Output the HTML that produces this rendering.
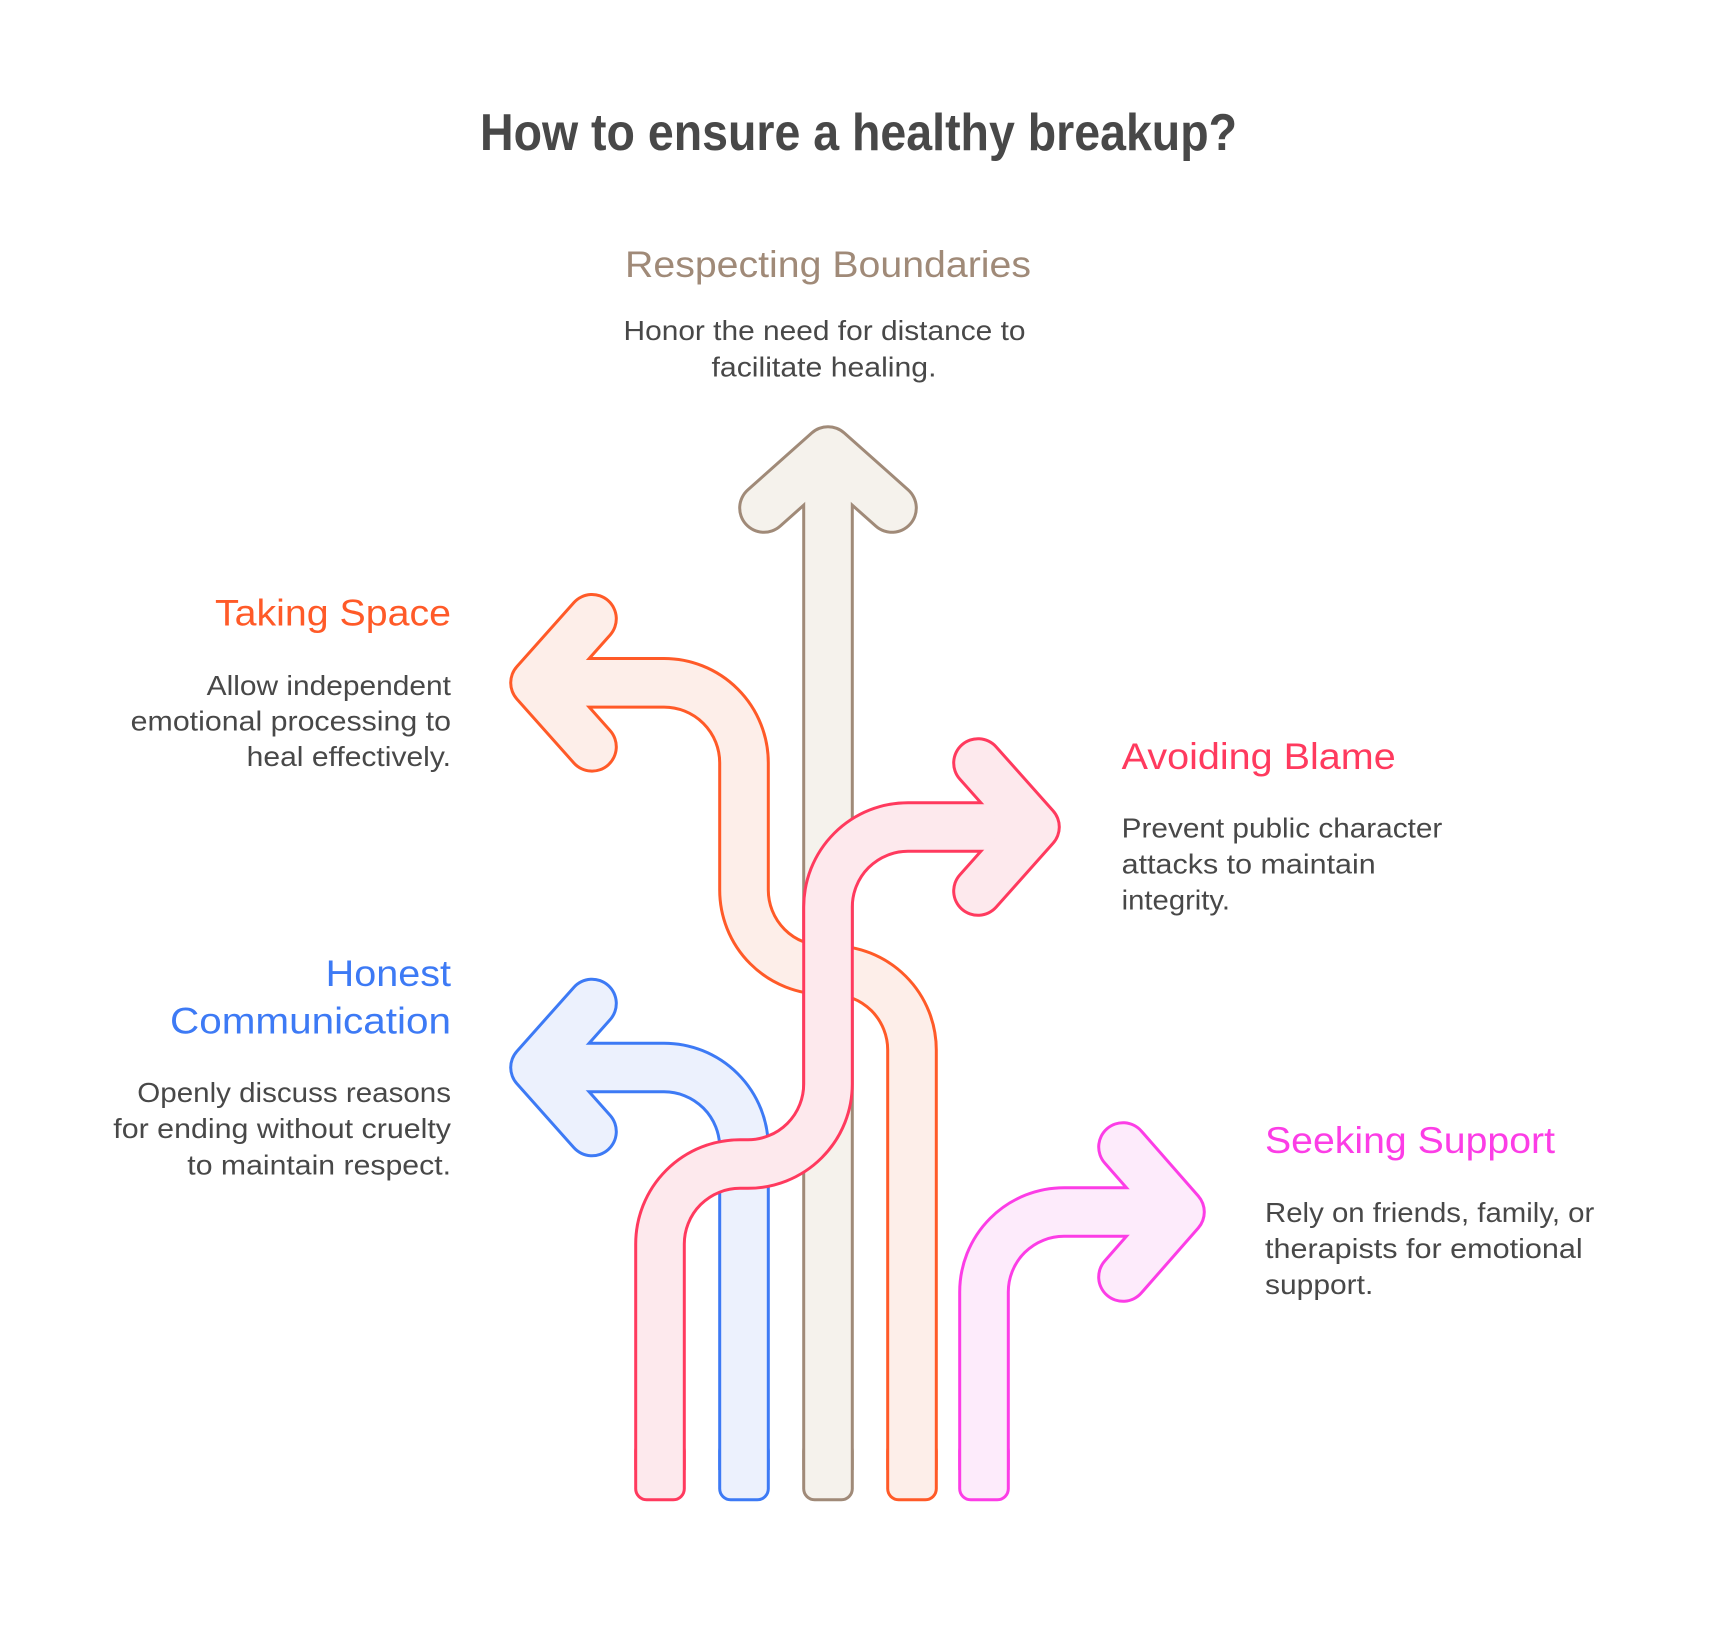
<!DOCTYPE html>
<html>
<head>
<meta charset="utf-8">
<style>
  html,body{margin:0;padding:0;background:#ffffff;}
  svg{display:block;}
  text{font-family:"Liberation Sans",Arial,sans-serif;}
  .desc{font-size:27.5px;fill:#484848;}
  .lbl{font-size:37px;}
</style>
</head>
<body>
<svg width="1716" height="1644" viewBox="0 0 1716 1644" xmlns="http://www.w3.org/2000/svg">
  <rect x="0" y="0" width="1716" height="1644" fill="#ffffff"/>

  <!-- Title -->
  <text x="480" y="150" font-size="52" font-weight="bold" fill="#484848" textLength="757" lengthAdjust="spacingAndGlyphs">How to ensure a healthy breakup?</text>

  <!-- Respecting Boundaries -->
  <text class="lbl" x="625" y="277" fill="#a08a78" textLength="406" lengthAdjust="spacingAndGlyphs">Respecting Boundaries</text>
  <text class="desc" x="623.5" y="340" textLength="402" lengthAdjust="spacingAndGlyphs">Honor the need for distance to</text>
  <text class="desc" x="711.5" y="376.5" textLength="225" lengthAdjust="spacingAndGlyphs">facilitate healing.</text>

  <!-- Taking Space -->
  <text class="lbl" x="215" y="625.5" fill="#ff5a28" textLength="236" lengthAdjust="spacingAndGlyphs">Taking Space</text>
  <text class="desc" x="206.7" y="695" textLength="244.3" lengthAdjust="spacingAndGlyphs">Allow independent</text>
  <text class="desc" x="130.7" y="730.5" textLength="320.3" lengthAdjust="spacingAndGlyphs">emotional processing to</text>
  <text class="desc" x="246.7" y="766" textLength="204.3" lengthAdjust="spacingAndGlyphs">heal effectively.</text>

  <!-- Honest Communication -->
  <text class="lbl" x="325.7" y="986" fill="#3d7af5" textLength="125.3" lengthAdjust="spacingAndGlyphs">Honest</text>
  <text class="lbl" x="170" y="1033.5" fill="#3d7af5" textLength="281" lengthAdjust="spacingAndGlyphs">Communication</text>
  <text class="desc" x="137.3" y="1102" textLength="313.7" lengthAdjust="spacingAndGlyphs">Openly discuss reasons</text>
  <text class="desc" x="113.3" y="1138" textLength="337.7" lengthAdjust="spacingAndGlyphs">for ending without cruelty</text>
  <text class="desc" x="187.3" y="1174.5" textLength="263.7" lengthAdjust="spacingAndGlyphs">to maintain respect.</text>

  <!-- Avoiding Blame -->
  <text class="lbl" x="1121.7" y="769" fill="#ff3a5e" textLength="274" lengthAdjust="spacingAndGlyphs">Avoiding Blame</text>
  <text class="desc" x="1121.7" y="837.5" textLength="320.6" lengthAdjust="spacingAndGlyphs">Prevent public character</text>
  <text class="desc" x="1121.7" y="873.5" textLength="254" lengthAdjust="spacingAndGlyphs">attacks to maintain</text>
  <text class="desc" x="1121.7" y="909.5" textLength="108.3" lengthAdjust="spacingAndGlyphs">integrity.</text>

  <!-- Seeking Support -->
  <text class="lbl" x="1265" y="1153" fill="#fc3de6" textLength="290" lengthAdjust="spacingAndGlyphs">Seeking Support</text>
  <text class="desc" x="1265" y="1222" textLength="329.3" lengthAdjust="spacingAndGlyphs">Rely on friends, family, or</text>
  <text class="desc" x="1265" y="1258" textLength="317.7" lengthAdjust="spacingAndGlyphs">therapists for emotional</text>
  <text class="desc" x="1265" y="1294" textLength="108.3" lengthAdjust="spacingAndGlyphs">support.</text>

  <!-- ===== Arrows ===== -->
  <!-- Brown (Respecting Boundaries) -->
  <g>
    <rect x="803.7" y="1440" width="48.6" height="59.8" rx="11" fill="#f5f2ec" stroke="#a08a78" stroke-width="3"/>
    <g fill="none" stroke="#a08a78" stroke-width="51.6" stroke-linejoin="round">
      <path d="M828,1470 L828,451" stroke-linecap="butt"/>
      <path d="M764,508 L828,451 L892,508" stroke-linecap="round"/>
    </g>
    <g fill="none" stroke="#f5f2ec" stroke-width="45.6" stroke-linejoin="round">
      <path d="M828,1470 L828,451" stroke-linecap="butt"/>
      <path d="M764,508 L828,451 L892,508" stroke-linecap="round"/>
    </g>
  </g>

  <!-- Blue (Honest Communication) -->
  <g>
    <rect x="719.7" y="1440" width="48.6" height="59.8" rx="11" fill="#ecf1fd" stroke="#3d7af5" stroke-width="3"/>
    <g fill="none" stroke="#3d7af5" stroke-width="51.6" stroke-linejoin="round">
      <path d="M744,1470 L744,1147.5 A80,80 0 0 0 664,1067.5 L535,1067.5" stroke-linecap="butt"/>
      <path d="M592,1003.5 L535,1067.5 L592,1131.5" stroke-linecap="round"/>
    </g>
    <g fill="none" stroke="#ecf1fd" stroke-width="45.6" stroke-linejoin="round">
      <path d="M744,1470 L744,1147.5 A80,80 0 0 0 664,1067.5 L535,1067.5" stroke-linecap="butt"/>
      <path d="M592,1003.5 L535,1067.5 L592,1131.5" stroke-linecap="round"/>
    </g>
  </g>

  <!-- Orange (Taking Space) -->
  <g>
    <rect x="887.7" y="1440" width="48.6" height="59.8" rx="11" fill="#fdeee9" stroke="#ff5a28" stroke-width="3"/>
    <g fill="none" stroke="#ff5a28" stroke-width="51.6" stroke-linejoin="round">
      <path d="M912,1470 L912,1050 A80,80 0 0 0 832,970 L824,970 A80,80 0 0 1 744,890 L744,762.8 A80,80 0 0 0 664,682.8 L535,682.8" stroke-linecap="butt"/>
      <path d="M592,618.8 L535,682.8 L592,746.8" stroke-linecap="round"/>
    </g>
    <g fill="none" stroke="#fdeee9" stroke-width="45.6" stroke-linejoin="round">
      <path d="M912,1470 L912,1050 A80,80 0 0 0 832,970 L824,970 A80,80 0 0 1 744,890 L744,762.8 A80,80 0 0 0 664,682.8 L535,682.8" stroke-linecap="butt"/>
      <path d="M592,618.8 L535,682.8 L592,746.8" stroke-linecap="round"/>
    </g>
  </g>

  <!-- Pink (Seeking Support) -->
  <g>
    <rect x="959.7" y="1440" width="48.6" height="59.8" rx="11" fill="#fdebfb" stroke="#fc3de6" stroke-width="3"/>
    <g fill="none" stroke="#fc3de6" stroke-width="51.6" stroke-linejoin="round">
      <path d="M984,1470 L984,1292 A80,80 0 0 1 1064,1212 L1180,1212" stroke-linecap="butt"/>
      <path d="M1123,1147 L1180,1212 L1123,1277" stroke-linecap="round"/>
    </g>
    <g fill="none" stroke="#fdebfb" stroke-width="45.6" stroke-linejoin="round">
      <path d="M984,1470 L984,1292 A80,80 0 0 1 1064,1212 L1180,1212" stroke-linecap="butt"/>
      <path d="M1123,1147 L1180,1212 L1123,1277" stroke-linecap="round"/>
    </g>
  </g>

  <!-- Red (Avoiding Blame) - on top -->
  <g>
    <rect x="635.7" y="1440" width="48.6" height="59.8" rx="11" fill="#fde9ed" stroke="#ff3a5e" stroke-width="3"/>
    <g fill="none" stroke="#ff3a5e" stroke-width="51.6" stroke-linejoin="round">
      <path d="M660,1470 L660,1244 A80,80 0 0 1 740,1164 L748,1164 A80,80 0 0 0 828,1084 L828,907 A80,80 0 0 1 908,827 L1035,827" stroke-linecap="butt"/>
      <path d="M978,763 L1035,827 L978,891" stroke-linecap="round"/>
    </g>
    <g fill="none" stroke="#fde9ed" stroke-width="45.6" stroke-linejoin="round">
      <path d="M660,1470 L660,1244 A80,80 0 0 1 740,1164 L748,1164 A80,80 0 0 0 828,1084 L828,907 A80,80 0 0 1 908,827 L1035,827" stroke-linecap="butt"/>
      <path d="M978,763 L1035,827 L978,891" stroke-linecap="round"/>
    </g>
  </g>
</svg>
</body>
</html>
